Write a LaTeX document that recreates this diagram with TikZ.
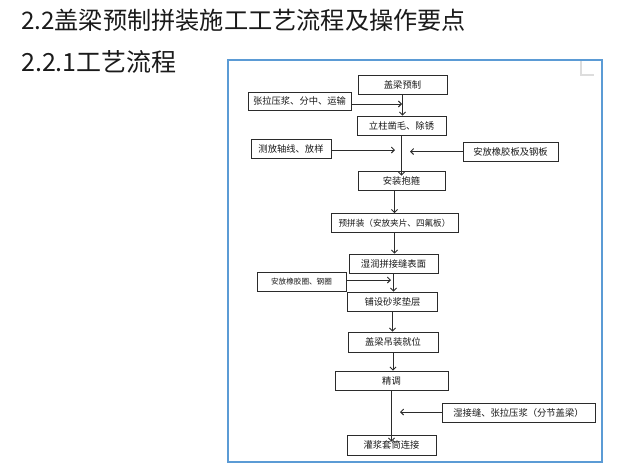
\documentclass[tikz,border=0pt]{standalone}
\usepackage{fontspec}
\setmainfont{Noto Sans CJK SC}
\definecolor{liuchengBlue}{HTML}{5B9BD5}
\definecolor{liuchengInk}{HTML}{1A1A1A}
\definecolor{liuchengLine}{HTML}{2B2B2B}
\definecolor{liuchengMark}{HTML}{DDDDDD}
\usetikzlibrary{
	arrows.meta,
	positioning,
	calc
}
\tikzset{
	kuang/.style={
		draw=liuchengLine,
		line width=0.9pt,
		fill=white,
		align=center,
		inner sep=0pt,
		minimum height=19pt,
		text=liuchengInk,
		font=\fontsize{9.3}{10}\selectfont
	},
	biaoti/.style={
		anchor=west,
		inner sep=0pt,
		text=liuchengInk,
		font=\fontsize{24.2}{26}\selectfont
	},
	jiantou/.style={
		-{Straight Barb[length=3pt,width=6pt]},
		line width=0.9pt,
		liuchengLine
	}
}

\begin{document}
\begin{tikzpicture}[x=1pt,y=-1pt]
		\useasboundingbox (0,0) rectangle (631,467);
		\node[biaoti] (h1) at (21,20) {2.2盖梁预制拼装施工工艺流程及操作要点};
		\node[biaoti, font=\fontsize{25}{27}\selectfont] (h2) at (21,62) {2.2.1工艺流程};
		\draw[liuchengBlue, line width=1.2pt] (228,60) rectangle (602,462);
		\draw[liuchengMark, line width=1.5pt] (581,61) -- (581,75) -- (594,75);
		% main line
		\node[kuang, minimum width=89pt] (gl) at (402.5,85) {盖梁预制};
		\node[kuang, minimum width=89pt] (lz) at (401.5,125.5) {立柱凿毛、除锈};
		\node[kuang, minimum width=87pt] (az) at (401.5,180.5) {安装抱箍};
		\node[kuang, minimum width=127pt, font=\fontsize{8.6}{10}\selectfont] (yp) at (394.5,223) {预拼装（安放夹片、四氟板）};
		\node[kuang, minimum width=89pt] (sr) at (393.5,263.5) {湿润拼接缝表面};
		\node[kuang, minimum width=90pt] (pz) at (392.5,301.5) {铺设砂浆垫层};
		\node[kuang, minimum width=90pt, minimum height=20pt] (dz) at (393,342) {盖梁吊装就位};
		\node[kuang, minimum width=113pt] (jt) at (391.5,380.5) {精调};
		\node[kuang, minimum width=89pt, minimum height=20pt] (gt) at (391.5,445) {灌浆套筒连接};
		% side boxes
		\node[kuang, minimum width=103pt, minimum height=18pt] (zl) at (299.5,101) {张拉压浆、分中、运输};
		\node[kuang, minimum width=80pt] (cf) at (291,148.5) {测放轴线、放样};
		\node[kuang, minimum width=95pt] (xj) at (510.5,151.5) {安放橡胶板及钢板};
		\node[kuang, minimum width=89pt, font=\fontsize{7.6}{9}\selectfont] (xq) at (301.5,281.5) {安放橡胶圈、钢圈};
		\node[kuang, minimum width=153pt] (sj) at (518.5,412.5) {湿接缝、张拉压浆（分节盖梁）};
		\coordinate (m1) at (402,104);
		\coordinate (m2) at (395,150);
		\coordinate (m3) at (410,151.5);
		\coordinate (m4) at (391,280);
		\coordinate (m5) at (400,412);
		% connectors
		\draw[jiantou] (gl.south) -- (gl.south |- lz.north);
		\draw[jiantou] (lz.south) -- ([yshift=-5pt]az.north);
		\draw[jiantou] (yp.north |- az.south) -- (yp.north);
		\draw[jiantou] (yp.south) -- (yp.south |- sr.north);
		\draw[jiantou] (sr.south) -- (sr.south |- pz.north);
		\draw[jiantou] (pz.south) -- (pz.south |- dz.north);
		\draw[jiantou] (dz.south) -- (dz.south |- jt.north);
		\draw[jiantou] (jt.south) -- ([yshift=-7pt]jt.south |- gt.north);
		\draw[jiantou] (zl.east |- m1) -- (m1);
		\draw[jiantou] (cf.east |- m2) -- (m2);
		\draw[jiantou] (xj.west |- m3) -- (m3);
		\draw[jiantou] (xq.east |- m4) -- (m4);
		\draw[jiantou] (sj.west |- m5) -- (m5);
	\end{tikzpicture}
\end{document}
